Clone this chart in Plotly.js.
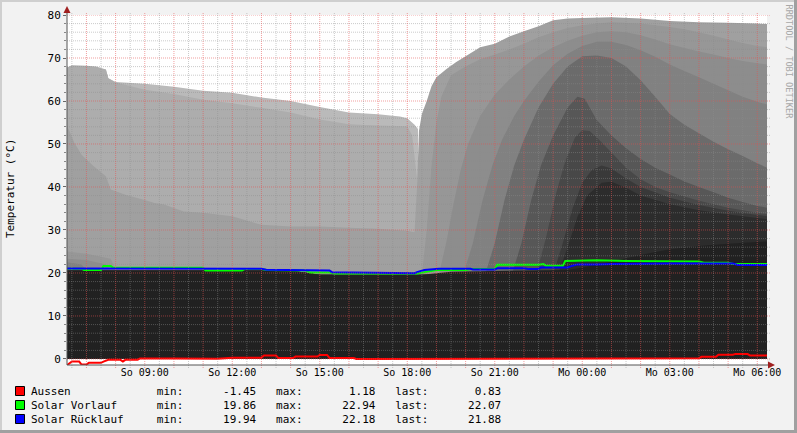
<!DOCTYPE html>
<html><head><meta charset="utf-8">
<script src="https://cdn.plot.ly/plotly-3.0.1.min.js"></script>
<style>html,body{margin:0;padding:0;background:#f2f2f2;overflow:hidden}</style>
</head><body><div id="chart" style="width:797px;height:433px"></div>
<script>
// ---------- data ----------
const tickLabels = ["So 09:00","So 12:00","So 15:00","So 18:00","So 21:00","Mo 00:00","Mo 03:00","Mo 06:00"];
const yTicks = [0,10,20,30,40,50,60,70,80];
const seriesNames = ["Aussen","Solar Vorlauf","Solar Rücklauf"];

const layer1 = [["So 06:20",67.8],["So 07:40",67.3],["So 07:45",65.3],["So 08:00",64.4],["So 09:00",64],["So 10:00",63.3],["So 11:00",62.4],["So 12:00",61.9],["So 13:00",60.8],["So 14:00",60],["So 15:00",58.6],["So 16:00",57.3],["So 17:00",56.9],["So 17:45",56.4],["So 18:00",56],["So 18:15",54.5],["So 18:22",53.5],["So 18:24",0],["Mo 06:20",0]];
const layer2 = [["So 06:20",67.8],["So 06:30",68.3],["So 07:00",68.2],["So 07:20",68],["So 07:40",67.3],["So 07:45",65.3],["So 08:00",64.3],["So 08:30",63.5],["So 09:00",62.6],["So 10:00",61.6],["So 11:00",60.3],["So 12:00",59.5],["So 13:00",58.4],["So 14:00",57.3],["So 15:00",55.7],["So 16:00",54.6],["So 17:00",54.3],["So 18:00",54.1],["So 18:10",52],["So 18:20",42],["So 18:25",28],["So 18:28",0],["Mo 06:20",0]];
const layer3 = [["So 06:20",54.1],["So 06:25",53],["So 06:35",50.3],["So 06:50",47.5],["So 07:00",46.4],["So 07:15",44.8],["So 07:40",42.5],["So 07:50",39.4],["So 08:20",38.2],["So 09:00",37],["So 09:20",36.3],["So 09:40",35.9],["So 10:20",34.3],["So 11:00",34],["So 12:00",33.2],["So 13:00",31.2],["So 14:00",30.8],["So 15:00",30.8],["So 16:00",30.5],["So 17:00",30.3],["So 18:00",29.8],["So 18:15",29.5],["So 18:20",40],["So 18:24",53],["So 18:30",57],["So 18:40",60],["So 18:50",63.5],["So 19:00",65.5],["So 19:20",67.4],["So 19:40",69],["So 20:00",70.4],["So 20:30",72.5],["So 21:00",73.3],["So 21:30",75],["So 22:00",76.2],["So 22:30",77.4],["So 23:00",78.8],["So 23:30",79.2],["Mo 00:00",79.3],["Mo 01:00",79.5],["Mo 02:00",79.2],["Mo 03:00",78.6],["Mo 04:00",78.3],["Mo 05:00",78.2],["Mo 06:00",78],["Mo 06:20",77.9]];
const layer4 = [["So 06:20",25],["So 07:00",24.5],["So 07:50",23.3],["So 08:00",20.6],["So 14:00",20.6],["So 15:00",19.6],["So 18:30",19.6],["So 18:40",30],["So 18:50",45],["So 19:00",55],["So 19:10",61],["So 19:30",66],["So 20:00",68],["So 20:30",69.7],["So 21:00",70.8],["So 21:30",72],["So 22:00",73.3],["So 22:30",74.8],["So 23:00",76],["So 23:30",77],["Mo 00:00",77.6],["Mo 00:30",78],["Mo 01:00",78.3],["Mo 02:00",78],["Mo 03:00",77.2],["Mo 03:30",76.7],["Mo 04:00",76],["Mo 04:30",75.2],["Mo 05:00",74.3],["Mo 05:30",73.5],["Mo 06:00",72.8],["Mo 06:20",72.5]];
const layer5 = [["So 06:20",23.3],["So 07:00",23],["So 07:40",22],["So 07:50",20.6],["So 14:00",20.6],["So 15:00",19.6],["So 19:05",19.6],["So 19:20",27],["So 19:35",36],["So 19:50",44],["So 20:05",50],["So 20:30",56.5],["So 21:00",61.5],["So 21:30",65],["So 22:00",68],["So 22:30",70.5],["So 23:00",72.5],["So 23:30",74],["Mo 00:00",75.2],["Mo 00:30",76],["Mo 01:00",76.2],["Mo 01:30",76],["Mo 02:00",75.3],["Mo 02:30",74.3],["Mo 03:00",73.2],["Mo 03:30",72.3],["Mo 04:00",71.5],["Mo 04:30",70.8],["Mo 05:00",70],["Mo 05:30",69.3],["Mo 06:00",68.8],["Mo 06:20",68.5]];
const layer6 = [["So 06:20",22.5],["So 06:50",22],["So 07:00",20.6],["So 14:00",20.6],["So 15:00",19.6],["So 19:55",19.6],["So 20:15",27],["So 20:35",37],["So 20:55",45],["So 21:15",51],["So 21:40",56.5],["So 22:00",60],["So 22:30",64.5],["So 23:00",68.3],["So 23:30",71],["Mo 00:00",72.8],["Mo 00:30",73.8],["Mo 01:00",73.8],["Mo 01:30",73],["Mo 02:00",71.8],["Mo 02:30",70.3],["Mo 03:00",68.5],["Mo 03:30",67],["Mo 04:00",65.5],["Mo 04:30",64],["Mo 05:00",62.5],["Mo 05:30",61],["Mo 06:00",59.8],["Mo 06:20",59.2]];
const layer7 = [["So 06:20",20.6],["So 14:00",20.6],["So 15:00",19.6],["So 20:40",19.6],["So 21:00",27],["So 21:20",37],["So 21:40",45],["So 22:00",51],["So 22:30",58.5],["So 23:00",64],["So 23:30",68],["Mo 00:00",70.4],["Mo 00:30",70.6],["Mo 01:00",70],["Mo 01:30",68],["Mo 02:00",64.8],["Mo 02:30",61],["Mo 03:00",57],["Mo 03:30",54.5],["Mo 04:00",52.5],["Mo 04:30",50.5],["Mo 05:00",48.8],["Mo 05:30",47.2],["Mo 06:00",45.5],["Mo 06:20",44.5]];
const layer8 = [["So 06:20",20.6],["So 14:00",20.6],["So 15:00",19.6],["So 21:35",19.6],["So 21:55",27],["So 22:15",37],["So 22:35",45],["So 23:00",52],["So 23:30",58.5],["So 23:50",61],["Mo 00:05",60.5],["Mo 00:30",55.5],["Mo 01:00",52],["Mo 01:30",49],["Mo 02:00",46.5],["Mo 02:30",44.5],["Mo 03:00",42.9],["Mo 03:30",41.3],["Mo 04:00",40],["Mo 04:30",38.8],["Mo 05:00",37.5],["Mo 05:30",36.5],["Mo 06:00",35.6],["Mo 06:20",35.2]];
const layer9 = [["So 06:20",20.6],["So 14:00",20.6],["So 15:00",19.6],["So 22:25",19.6],["So 22:45",28],["So 23:05",38],["So 23:25",46],["So 23:45",51.5],["Mo 00:00",53.2],["Mo 00:15",53],["Mo 00:30",51.5],["Mo 01:00",48],["Mo 01:30",44.5],["Mo 02:00",41.8],["Mo 02:30",40],["Mo 03:00",38.8],["Mo 04:00",36.8],["Mo 05:00",35.2],["Mo 06:00",34],["Mo 06:20",33.7]];
const layer10 = [["So 06:20",20.6],["So 14:00",20.6],["So 15:00",19.6],["So 23:00",19.6],["So 23:20",27],["So 23:40",35],["Mo 00:00",41],["Mo 00:20",44],["Mo 00:40",45],["Mo 01:00",44.3],["Mo 01:30",42],["Mo 02:00",40],["Mo 03:00",37.5],["Mo 04:00",35.8],["Mo 05:00",34.5],["Mo 06:00",33.5],["Mo 06:20",33.2]];
const layer11 = [["So 06:20",20.6],["So 14:00",20.6],["So 15:00",19.6],["So 23:10",19.6],["So 23:30",26],["So 23:50",33],["Mo 00:10",38],["Mo 00:40",41],["Mo 01:00",41.2],["Mo 01:30",39.8],["Mo 02:00",38],["Mo 03:00",36],["Mo 04:00",34.6],["Mo 05:00",33.6],["Mo 06:00",32.8],["Mo 06:20",32.5]];
const layerBase = [["So 06:20",20.6],["So 14:00",20.6],["So 15:00",19.6],["So 18:30",19.6],["So 19:30",20.3],["So 23:30",20.7],["Mo 00:00",21.3],["Mo 01:00",22.6],["Mo 02:00",24.2],["Mo 03:00",25.5],["Mo 04:00",26.3],["Mo 05:00",26.8],["Mo 06:00",27.2],["Mo 06:20",27.3]];

const aussen = [["So 06:20",-1.45],["So 06:30",-0.6],["So 06:45",-0.6],["So 06:50",-1.3],["So 07:00",-1.3],["So 07:05",-0.9],["So 07:30",-0.9],["So 07:35",-0.6],["So 07:45",-0.2],["So 08:10",-0.2],["So 08:15",-0.6],["So 08:20",-0.2],["So 08:45",-0.2],["So 08:50",0.1],["So 10:00",0.1],["So 11:30",0.05],["So 12:00",0.3],["So 13:00",0.3],["So 13:05",0.8],["So 13:30",0.8],["So 13:35",0.2],["So 14:05",0.2],["So 14:10",0.55],["So 14:55",0.55],["So 15:00",0.93],["So 15:15",0.93],["So 15:20",0.23],["So 16:10",0.23],["So 16:15",0.0],["So 19:10",0.0],["So 19:15",0.15],["So 20:30",0.1],["So 21:00",0.15],["So 22:00",0.1],["So 23:00",0.15],["Mo 00:00",0.1],["Mo 01:00",0.15],["Mo 02:00",0.1],["Mo 03:00",0.05],["Mo 04:00",0.15],["Mo 04:05",0.5],["Mo 04:35",0.5],["Mo 04:40",1.0],["Mo 05:10",1.0],["Mo 05:15",1.18],["Mo 05:40",1.15],["Mo 05:45",0.83],["Mo 06:20",0.83]];
const vorlauf = [["So 06:20",21.0],["So 06:50",21.0],["So 06:55",20.7],["So 07:30",20.7],["So 07:35",21.6],["So 07:50",21.6],["So 07:55",21.2],["So 11:00",21.2],["So 11:05",20.6],["So 12:20",20.6],["So 12:25",20.9],["So 13:00",20.9],["So 13:10",20.7],["So 14:30",20.6],["So 14:40",20.1],["So 15:20",20.1],["So 15:30",19.9],["So 17:00",19.86],["So 18:20",19.86],["So 18:40",20.3],["So 19:00",20.7],["So 20:00",20.7],["So 20:10",20.9],["So 21:00",20.9],["So 21:05",21.9],["So 22:30",21.9],["So 22:40",22.1],["So 22:45",21.7],["So 23:20",21.7],["So 23:25",22.8],["Mo 00:30",22.94],["Mo 01:30",22.8],["Mo 02:30",22.7],["Mo 04:00",22.7],["Mo 04:10",22.4],["Mo 05:00",22.4],["Mo 05:10",22.07],["Mo 06:20",22.07]];
const ruecklauf = [["So 06:20",21.05],["So 13:00",21.0],["So 13:10",20.75],["So 14:00",20.7],["So 15:20",20.6],["So 15:25",20.2],["So 17:00",20.1],["So 17:10",19.94],["So 18:15",19.94],["So 18:20",20.2],["So 18:35",20.7],["So 19:05",21.0],["So 20:10",21.0],["So 20:15",20.8],["So 21:00",20.8],["So 21:05",21.1],["So 22:00",21.1],["So 22:10",20.9],["So 22:30",20.9],["So 22:35",21.3],["So 23:30",21.3],["So 23:40",21.7],["So 23:50",22.0],["Mo 00:30",22.0],["Mo 01:00",22.1],["Mo 03:00",22.18],["Mo 05:10",22.18],["Mo 05:20",21.88],["Mo 06:20",21.88]];

// ---------- styles ----------
const layerColors = ["#bababa","#adadad","#a0a0a0","#979797","#8d8d8d","#818181","#6b6b6b","#575757","#484848","#393939","#2c2c2c","#212121"];
const lineColors = ["#ff0000","#00ff00","#0000ff"];
const MONO = "DejaVu Sans Mono";

function T(s){ const p = s.split(" "); return (p[0]==="So" ? "2024-01-07 " : "2024-01-08 ") + p[1]; }
const px2x = px => (px-67)/700;
const py2y = py => (365-py)/350;

const layers = [layer1,layer2,layer3,layer4,layer5,layer6,layer7,layer8,layer9,layer10,layer11,layerBase];
const traces = [];
layers.forEach((L,i)=>{
  traces.push({type:'scatter', mode:'none', fill:'tozeroy', fillcolor:layerColors[i],
    x:L.map(p=>T(p[0])), y:L.map(p=>p[1]), hoverinfo:'skip', showlegend:false});
});
const lineSeries = [aussen, vorlauf, ruecklauf];
lineSeries.forEach((L,i)=>{
  traces.push({type:'scatter', mode:'lines', line:{color:lineColors[i], width:2},
    x:L.map(p=>T(p[0])), y:L.map(p=>p[1]), hoverinfo:'skip', showlegend:false, name:seriesNames[i]});
});

// ---------- grid (drawn above the areas, like rrdtool) ----------
const shapes = [];
const minorCol = 'rgba(140,140,140,0.45)', majorCol = 'rgba(230,80,80,0.55)';
for(let v=0; v<=80; v+=2){
  shapes.push({type:'line', layer:'above', xref:'paper', yref:'y', x0:px2x(67), x1:px2x(770), y0:v, y1:v,
    line:{color: v%10===0 ? majorCol : minorCol, width:1, dash:'1px,1px'}});
}
for(let m=6*60+30; m<=30*60; m+=30){
  const d = m>=1440 ? "Mo" : "So";
  const mm = m%1440, hh = String(Math.floor(mm/60)).padStart(2,'0'), mi = String(mm%60).padStart(2,'0');
  shapes.push({type:'line', layer:'above', xref:'x', yref:'paper', x0:T(d+" "+hh+":"+mi), x1:T(d+" "+hh+":"+mi),
    y0:py2y(368), y1:py2y(12), line:{color: mm%60===0 ? majorCol : minorCol, width:1, dash:'1px,1px'}});
}
// axes lines and arrows
const axisCol = '#555555', arrowCol = '#a02020';
shapes.push({type:'line', layer:'above', xref:'paper', yref:'paper', x0:px2x(67), x1:px2x(770), y0:py2y(365), y1:py2y(365), line:{color:axisCol, width:1}});
shapes.push({type:'line', layer:'above', xref:'paper', yref:'paper', x0:px2x(67), x1:px2x(67), y0:py2y(365), y1:py2y(11), line:{color:axisCol, width:1}});
shapes.push({type:'path', layer:'above', xref:'paper', yref:'paper', fillcolor:arrowCol, line:{width:0},
  path:`M ${px2x(63.5)} ${py2y(13)} L ${px2x(70.5)} ${py2y(13)} L ${px2x(67)} ${py2y(6)} Z`});
shapes.push({type:'path', layer:'above', xref:'paper', yref:'paper', fillcolor:arrowCol, line:{width:0},
  path:`M ${px2x(768)} ${py2y(361.5)} L ${px2x(768)} ${py2y(368.5)} L ${px2x(775)} ${py2y(365)} Z`});
// frame
shapes.push({type:'rect', layer:'above', xref:'paper', yref:'paper', x0:px2x(0), x1:px2x(797), y0:py2y(0), y1:py2y(2), fillcolor:'#cfcfcf', line:{width:0}});
shapes.push({type:'rect', layer:'above', xref:'paper', yref:'paper', x0:px2x(0), x1:px2x(2), y0:py2y(0), y1:py2y(433), fillcolor:'#cfcfcf', line:{width:0}});
shapes.push({type:'rect', layer:'above', xref:'paper', yref:'paper', x0:px2x(0), x1:px2x(797), y0:py2y(430), y1:py2y(433), fillcolor:'#a0a0a0', line:{width:0}});
shapes.push({type:'rect', layer:'above', xref:'paper', yref:'paper', x0:px2x(794), x1:px2x(797), y0:py2y(0), y1:py2y(433), fillcolor:'#a0a0a0', line:{width:0}});

// ---------- legend ----------
const annotations = [];
const rowY = [391, 405, 419];
const nb = s => s.replace(/ /g, '\u00a0');
lineSeries.forEach((L,i)=>{
  const vals = L.map(p=>p[1]);
  const mn = Math.min(...vals).toFixed(2), mx = Math.max(...vals).toFixed(2), la = vals[vals.length-1].toFixed(2);
  const txt = seriesNames[i].padEnd(19) + "min:" + mn.padStart(11) + "   max:" + mx.padStart(11) + "   last:" + la.padStart(11);
  annotations.push({xref:'paper', yref:'paper', x:px2x(29), y:py2y(rowY[i]), xanchor:'left', yanchor:'middle',
    text:nb(txt), showarrow:false, font:{family:MONO, size:11, color:'#000'}});
  shapes.push({type:'rect', layer:'above', xref:'paper', yref:'paper', x0:px2x(15.5), x1:px2x(24.5),
    y0:py2y(rowY[i]-4.5), y1:py2y(rowY[i]+4.5), fillcolor:lineColors[i], line:{color:'#000', width:1}});
});
annotations.push({xref:'paper', yref:'paper', x:px2x(10), y:py2y(189), xanchor:'center', yanchor:'middle', textangle:-90,
  text:"Temperatur (°C)", showarrow:false, font:{family:MONO, size:11, color:'#000'}});
annotations.push({xref:'paper', yref:'paper', x:px2x(788.5), y:py2y(62), xanchor:'center', yanchor:'middle', textangle:90,
  text:"RRDTOOL / TOBI OETIKER", showarrow:false, font:{family:MONO, size:8.6, color:'#a8a8a8'}});

const layout = {
  width:797, height:433, margin:{l:67, r:30, t:15, b:68, pad:0},
  paper_bgcolor:'#f2f2f2', plot_bgcolor:'#ffffff', showlegend:false,
  xaxis:{type:'date', range:[T("So 06:20"), T("Mo 06:20")], tickvals:tickLabels.map(T), ticktext:tickLabels,
    showgrid:false, zeroline:false, showline:false, ticks:'', tickfont:{family:MONO, size:10, color:'#000'}, fixedrange:true},
  yaxis:{range:[-1.4, 80], tickvals:yTicks, ticktext:yTicks.map(String), showgrid:false, zeroline:false, showline:false,
    ticks:'outside', ticklen:3, tickcolor:'#666', tickwidth:1,
    minor:{dtick:2, tick0:0, ticks:'outside', ticklen:2, tickcolor:'#888', showgrid:false},
    tickfont:{family:MONO, size:11, color:'#000'}, fixedrange:true},
  shapes:shapes, annotations:annotations
};
Plotly.newPlot('chart', traces, layout, {staticPlot:true, displayModeBar:false});
</script></body></html>
